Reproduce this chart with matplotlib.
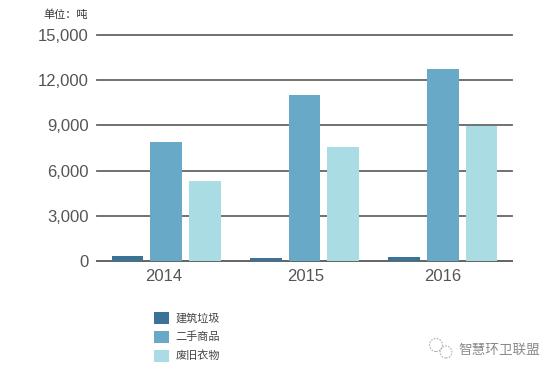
import matplotlib
matplotlib.use("Agg")
import matplotlib.pyplot as plt
from matplotlib.patches import Ellipse, Rectangle
import numpy as np

plt.rcParams['font.family'] = ['Liberation Sans', 'Noto Sans CJK SC', 'DejaVu Sans']

years = ['2014', '2015', '2016']
series_names = ['建筑垃圾', '二手商品', '废旧衣物']
construction = [330, 180, 285]
second_hand = [7900, 11050, 12760]
clothing = [5300, 7550, 8950]
colors = ['#3a7396', '#69a9c8', '#aadde3']
yticks = [0, 3000, 6000, 9000, 12000, 15000]

W, H = 554, 375
fig = plt.figure(figsize=(W / 100, H / 100), dpi=100, facecolor='white')
ax = fig.add_axes([97 / W, 1 - 261 / H, 415 / W, 226 / H])

x = np.arange(len(years))
offset = 0.28
width = 0.228
for i, (vals, c) in enumerate(zip([construction, second_hand, clothing], colors)):
    ax.bar(x + (i - 1) * offset, vals, width, color=c, zorder=3)

ax.set_xlim(-0.5, 2.5)
ax.set_ylim(0, 15000)
ax.set_yticks(yticks)
ax.set_yticklabels([f'{v:,}' for v in yticks], fontsize=12, color='#555555')
ax.set_xticks(x + np.array([-0.018, 0.008, 0.0]))
ax.set_xticklabels(years, fontsize=12, color='#555555')
ax.tick_params(axis='both', length=0)
ax.tick_params(axis='y', pad=6)
ax.tick_params(axis='x', pad=6)
ax.grid(axis='y', color='#666666', linewidth=1.3, zorder=1, clip_on=False)
for line in ax.get_ygridlines():
    line.set_clip_on(False)
ax.set_axisbelow(True)
for s in ['top', 'right', 'left']:
    ax.spines[s].set_visible(False)
ax.spines['bottom'].set_color('#666666')
ax.spines['bottom'].set_linewidth(1.3)
ax.spines['bottom'].set_zorder(2)

fig.text(43 / W, 1 - 15 / H, '单位：吨', fontsize=8, color='#333333', va='center', ha='left')

# legend
for name, c, yc in zip(series_names, colors, [318, 336.5, 355.5]):
    fig.add_artist(Rectangle((153.5 / W, 1 - (yc + 6) / H), 15 / W, 12 / H,
                             transform=fig.transFigure, color=c, lw=0))
    fig.text(175.5 / W, 1 - yc / H, name, fontsize=8, color='#444444', va='center', ha='left')

# watermark
for cx, cy, r in [(436, 345, 6.5), (446, 352, 6)]:
    fig.add_artist(Ellipse((cx / W, 1 - cy / H), 2 * r / W, 2 * r / H, transform=fig.transFigure,
                           fill=False, ec='#b0b0b0', lw=0.8, ls=(0, (1.5, 1.2))))
fig.text(458 / W, 1 - 350 / H, '智慧环卫联盟', fontsize=9.8, color='#8a8a8a', va='center', ha='left')

fig.savefig('out.png', dpi=100, facecolor='white')
